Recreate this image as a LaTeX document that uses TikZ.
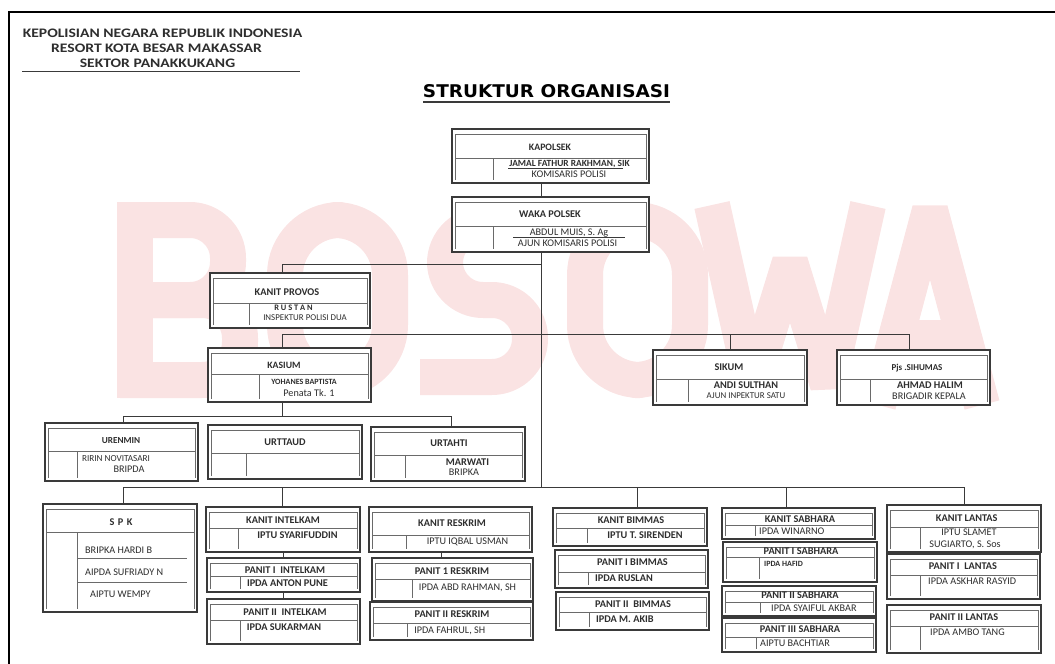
\documentclass[tikz,border=0pt]{standalone}
\usepackage{fontspec}
\setmainfont{Carlito}
\newfontfamily\titlefont{DejaVu Sans}
\usetikzlibrary{fit}
\definecolor{ln}{HTML}{3A3A3A}
\definecolor{txt}{HTML}{2E2E2E}
\definecolor{inl}{HTML}{6A6A6A}
\definecolor{wmred}{HTML}{FAE3E3}
\tikzset{
 obox/.style={draw=ln, line width=1.1pt, fill=white, inner sep=0pt, outer sep=0pt},
 inner line/.style={draw=inl, line width=0.6pt},
 conn/.style={draw=ln, line width=0.8pt},
 wm/.style={draw=wmred, line width=36pt, line cap=butt, line join=round},
 bt/.style={font=\fontsize{10.3}{11}\selectfont\bfseries, text=txt, inner sep=0pt, text height=6.6pt, text depth=0pt},
 rt/.style={font=\fontsize{10.2}{11}\selectfont, text=txt, inner sep=0pt, text height=6.5pt, text depth=0pt},
 hd/.style={font=\fontsize{13}{14}\selectfont\bfseries, text=txt, inner sep=0pt, text height=8.4pt, text depth=0pt},
}
\newcommand\orgbox[7]{%
 \node[obox, fit={(#2,#3) (#4,#5)}] (#1) {};
 \draw[inner line] (#2+3,#5-3) -- (#2+3,#3+5) -- (#4-3,#3+5) -- (#4-3,#5-3);
 \draw[inner line] (#2+3,#6) -- (#4-3,#6);
 \draw[inner line] (#7,#6) -- (#7,#5-3);
}
\newcommand\fs[1]{\fontsize{#1}{#1}\selectfont}
\begin{document}
\begin{tikzpicture}[x=1pt,y=-1pt]
\useasboundingbox (0,0) rectangle (1055,664);
% faint watermark letters (drawn as shapes)
\draw[wm] (135,398) -- (135,202);
\draw[wm, rounded corners=38pt] (120,220) -- (228,220) -- (228,300) -- (135,300);
\draw[wm, rounded corners=38pt] (135,300) -- (240,300) -- (240,380) -- (120,380);
\draw[wm, rounded corners=55pt] (285,220) rectangle (390,380);
\draw[wm, rounded corners=38pt] (548,225) -- (445,225) -- (445,300) -- (530,300) -- (530,377) -- (420,377);
\draw[wm, rounded corners=55pt] (585,220) rectangle (690,380);
\draw[wm, line join=bevel] (712,205) -- (752,385) -- (790,262) -- (828,385) -- (868,205);
\draw[wm, line join=bevel] (878,405) -- (930,210) -- (982,405);
\draw[wm, line width=30pt] (905,335) -- (955,335);
% frame
\draw[line width=2pt, black] (9,664) -- (9,12) -- (1055,12);
% header
\node[hd] (h1) at (162.5,33) {\scalebox{1.2}[1]{KEPOLISIAN NEGARA REPUBLIK INDONESIA}};
\node[hd] (h2) at (156.5,48) {\scalebox{1.2}[1]{RESORT KOTA BESAR MAKASSAR}};
\node[hd] (h3) at (157.5,63) {\scalebox{1.2}[1]{SEKTOR PANAKKUKANG}};
\draw[line width=1pt, ln] (22,71) -- (300,71);
\node[inner sep=0pt, text=black] (title) at (546.5,91.5) {\resizebox{247pt}{13pt}{\titlefont\bfseries STRUKTUR ORGANISASI}};
\draw[line width=1.6pt, ln] (423,102) -- (670,102);
% boxes
\orgbox{kapolsek}{452}{129}{649}{183}{158}{493}
\node[bt, font=\fs{9.8}\bfseries] (kapolsek-a) at (550,147) {KAPOLSEK};
\node[bt, font=\fs{9.4}\bfseries] (kapolsek-b) at (569.5,163.5) {JAMAL FATHUR RAKHMAN, SIK};
\node[rt] (kapolsek-c) at (569,174) {KOMISARIS POLISI};
\draw[ln, line width=0.6pt] (508,168.5) -- (623,168.5);
\orgbox{waka}{452}{197}{649}{252}{226}{493}
\node[bt] (waka-a) at (550,214) {WAKA POLSEK};
\node[rt] (waka-b) at (569,232.5) {ABDUL MUIS, S. Ag};
\draw[ln, line width=0.6pt] (513,237.5) -- (625,237.5);
\node[rt] (waka-c) at (567.5,243.5) {AJUN KOMISARIS POLISI};
\orgbox{provos}{210}{273}{370}{328}{303}{249}
\node[bt] (provos-a) at (287,292) {KANIT PROVOS};
\node[bt, font=\fs{8.4}\bfseries, text height=5.4pt] (provos-b) at (293.5,308) {R U S T A N};
\node[rt, font=\fs{8.9}, text height=5.7pt] (provos-c) at (305,318) {INSPEKTUR POLISI DUA};
\orgbox{kasium}{208}{348}{371}{402}{374}{259}
\node[bt, font=\fs{9.7}\bfseries] (kasium-a) at (284,365) {KASIUM};
\node[bt, font=\fs{8}\bfseries, text height=5.1pt] (kasium-b) at (304,382) {YOHANES BAPTISTA};
\node[rt] (kasium-c) at (309,393) {Penata Tk. 1};
\orgbox{sikum}{653}{350}{807}{405}{379}{688}
\node[bt] (sikum-a) at (729,367) {SIKUM};
\node[bt] (sikum-b) at (746,385) {ANDI SULTHAN};
\node[rt, font=\fs{8.9}, text height=5.7pt] (sikum-c) at (746,396) {AJUN INPEKTUR SATU};
\orgbox{pjs}{837}{350}{990}{405}{379}{870}
\node[bt, font=\fs{9}\bfseries] (pjs-a) at (917,367) {Pjs .SIHUMAS};
\node[bt] (pjs-b) at (930,385) {AHMAD HALIM};
\node[rt] (pjs-c) at (929,396) {BRIGADIR KEPALA};
\orgbox{urenmin}{45}{423}{198}{481}{451}{77}
\node[bt, font=\fs{9.2}\bfseries] (urenmin-a) at (121,440) {URENMIN};
\node[rt, font=\fs{9.2}] (urenmin-b) at (116,458) {RIRIN NOVITASARI};
\node[rt] (urenmin-c) at (129,469) {BRIPDA};
\orgbox{urttaud}{208}{425}{362}{479}{453}{246}
\node[bt] (urttaud-a) at (285,442) {URTTAUD};
\orgbox{urtahti}{371}{427}{525}{481}{455}{405}
\node[bt] (urtahti-a) at (449,443) {URTAHTI};
\node[bt] (urtahti-b) at (467.5,462) {MARWATI};
\node[rt] (urtahti-c) at (464,472.5) {BRIPKA};
\orgbox{spk}{43}{504}{197}{612}{532}{77}
\draw[inner line] (77,558) -- (187,558);
\draw[inner line] (77,582) -- (187,582);
\node[bt] (spk-a) at (121,522) {S\,\,P\,\,K};
\node[rt, anchor=west] (spk-b) at (85,550) {BRIPKA HARDI B};
\node[rt, anchor=west] (spk-c) at (85,572) {AIPDA SUFRIADY N};
\node[rt, anchor=west] (spk-d) at (90,594) {AIPTU WEMPY};
\orgbox{kintel}{206}{507}{360}{552}{528}{238}
\node[bt] (kintel-a) at (283,520) {KANIT INTELKAM};
\node[bt] (kintel-b) at (297.5,535) {IPTU SYARIFUDDIN};
\orgbox{pintel1}{207}{558}{360}{592}{576}{240}
\node[bt] (pintel1-a) at (285,570) {PANIT I\ \ INTELKAM};
\node[bt] (pintel1-b) at (287.5,583) {IPDA ANTON PUNE};
\orgbox{pintel2}{207}{599}{360}{644}{620}{240}
\node[bt] (pintel2-a) at (285,612) {PANIT II\ \ INTELKAM};
\node[bt] (pintel2-b) at (284,627) {IPDA SUKARMAN};
\orgbox{kres}{369}{507}{532}{552}{535}{406}
\node[bt] (kres-a) at (452,523) {KANIT RESKRIM};
\node[rt] (kres-b) at (467.5,541.5) {IPTU IQBAL USMAN};
\orgbox{pres1}{372}{558}{533}{601}{579}{412}
\node[bt] (pres1-a) at (452,571.5) {PANIT 1 RESKRIM};
\node[rt] (pres1-b) at (467.5,587) {IPDA ABD RAHMAN, SH};
\orgbox{pres2}{370}{602}{533}{640}{623}{407}
\node[bt] (pres2-a) at (452,614.5) {PANIT II RESKRIM};
\node[rt] (pres2-b) at (449.7,630.5) {IPDA FAHRUL, SH};
\orgbox{kbim}{553}{508}{707}{546}{528}{587}
\node[bt] (kbim-a) at (631,520.5) {KANIT BIMMAS};
\node[bt] (kbim-b) at (645,535) {IPTU T. SIRENDEN};
\orgbox{pbim1}{555}{550}{708}{588}{572}{588}
\node[bt] (pbim1-a) at (632.5,562.5) {PANIT I BIMMAS};
\node[bt, anchor=west] (pbim1-b) at (595,578) {IPDA RUSLAN};
\orgbox{pbim2}{556}{592}{709}{630}{612}{589}
\node[bt] (pbim2-a) at (633,604) {PANIT II\ \ BIMMAS};
\node[bt, anchor=west] (pbim2-b) at (596,619) {IPDA M. AKIB};
\orgbox{ksab}{722}{508}{875}{539}{525}{755}
\node[bt] (ksab-a) at (800,519) {KANIT SABHARA};
\node[rt, anchor=west] (ksab-b) at (759,531.5) {IPDA WINARNO};
\orgbox{psab1}{723}{542}{877}{582}{557}{759}
\node[bt] (psab1-a) at (801,551.5) {PANIT I SABHARA};
\node[bt, font=\fs{8}\bfseries, text height=5.1pt, anchor=west] (psab1-b) at (764,564) {IPDA HAFID};
\orgbox{psab2}{722}{586}{876}{616}{602}{760}
\node[bt] (psab2-a) at (800,595.5) {PANIT II SABHARA};
\node[rt, anchor=west] (psab2-b) at (771,608.5) {IPDA SYAIFUL AKBAR};
\orgbox{psab3}{722}{618}{876}{652}{637}{756}
\node[bt] (psab3-a) at (800,629.5) {PANIT III SABHARA};
\node[rt, anchor=west] (psab3-b) at (760,643.5) {AIPTU BACHTIAR};
\orgbox{klan}{887}{505}{1041}{552}{527}{920}
\node[bt] (klan-a) at (966.7,518) {KANIT LANTAS};
\node[rt] (klan-b) at (969,532) {IPTU SLAMET};
\node[rt] (klan-c) at (965,544) {SUGIARTO, S. Sos};
\orgbox{plan1}{887}{554}{1040}{599}{575}{920}
\node[bt] (plan1-a) at (963,566.5) {PANIT I\ \ LANTAS};
\node[rt, anchor=west] (plan1-b) at (928,581.5) {IPDA ASKHAR RASYID};
\orgbox{plan2}{887}{605}{1041}{653}{626}{920}
\node[bt] (plan2-a) at (964,617.5) {PANIT II LANTAS};
\node[rt, anchor=west] (plan2-b) at (930,632.5) {IPDA AMBO TANG};
% connectors
\coordinate (tx) at (541,0);
\coordinate (kx) at (282,0);
\draw[conn] (kapolsek.south -| tx) -- (waka.north -| tx);
\coordinate (busB) at (541,487);
\draw[conn] (waka.south -| tx) -- (busB);
\coordinate (jp) at (541,264);
\draw[conn] (jp) -| (provos.north -| kx);
\coordinate (busA1) at (282,334);
\coordinate (busA2) at (909,334);
\coordinate (sx) at (730,334);
\draw[conn] (busA1) -- (busA2);
\draw[conn] (busA1) -- (kasium.north -| busA1);
\draw[conn] (sx) -- (sikum.north -| sx);
\draw[conn] (busA2) -- (pjs.north -| busA2);
\coordinate (busU1) at (123,416);
\coordinate (busU2) at (451,416);
\draw[conn] (kasium.south -| kx) -- (kx |- busU1);
\draw[conn] (busU1) -- (busU2);
\draw[conn] (busU1) -- (urenmin.north -| busU1);
\draw[conn] (busU2) -- (urtahti.north -| busU2);
\coordinate (busL) at (123,487);
\coordinate (busR) at (964,487);
\coordinate (d2) at (282,487);
\coordinate (d3) at (637,487);
\coordinate (d4) at (786,487);
\draw[conn] (busL) -- (busR);
\draw[conn] (busL) -- (spk.north -| busL);
\draw[conn] (d2) -- (kintel.north -| d2);
\draw[conn] (d3) -- (kbim.north -| d3);
\draw[conn] (d4) -- (ksab.north -| d4);
\draw[conn] (busR) -- (klan.north -| busR);
\coordinate (ix) at (283,0);
\coordinate (rx) at (441,0);
\draw[conn] (kintel.south -| ix) -- (pintel1.north -| ix);
\draw[conn] (pintel1.south -| ix) -- (pintel2.north -| ix);
\draw[conn] (kres.south -| rx) -- (pres1.north -| rx);
\end{tikzpicture}
\end{document}
